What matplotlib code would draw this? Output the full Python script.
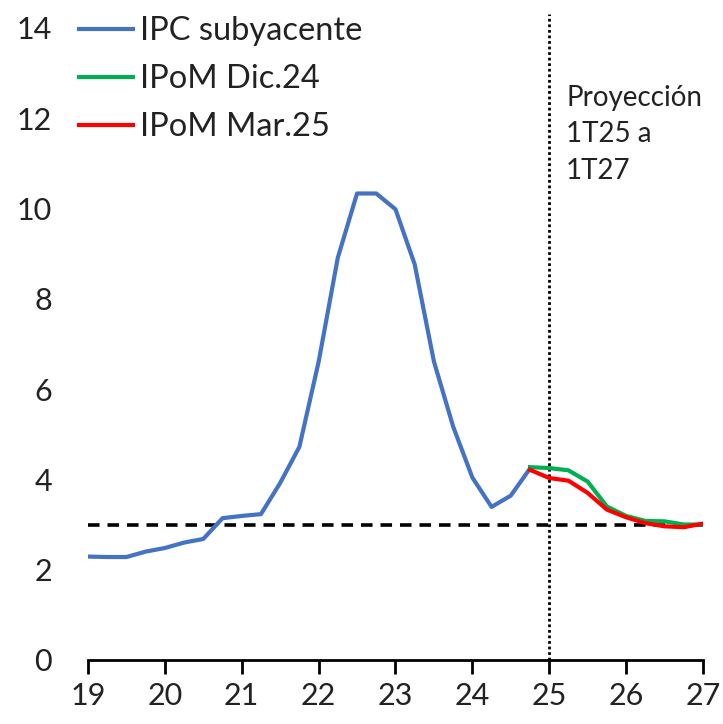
import numpy as np
import matplotlib.pyplot as plt

plt.rcParams['font.family'] = ['Lato', 'DejaVu Sans']

# quarterly core CPI, 2019Q1 .. 2024Q4
ipc_x = np.arange(19.0, 24.76, 0.25)
ipc_sub = [2.29, 2.28, 2.28, 2.40, 2.48, 2.60, 2.68, 3.14, 3.19, 3.23, 3.92, 4.72,
           6.60, 8.91, 10.33, 10.33, 9.98, 8.76, 6.61, 5.17, 4.04, 3.39, 3.64, 4.24]

# projections 2024Q4 .. 2027Q1
proj_x = np.arange(24.75, 27.01, 0.25)
ipom_dic24 = [4.27, 4.25, 4.20, 3.95, 3.40, 3.19, 3.08, 3.07, 3.00, 3.00]
ipom_mar25 = [4.21, 4.03, 3.97, 3.70, 3.33, 3.16, 3.03, 2.96, 2.94, 3.02]

meta = 3.0
xticks = list(range(19, 28))
yticks = list(range(0, 15, 2))

fig = plt.figure(figsize=(7.23, 7.24), dpi=100)
ax = fig.add_axes([0.1217, 0.0884, 0.8506, 0.892])

ax.plot([19, 27], [meta, meta], color='black', lw=2.6, dashes=(3.2, 2.2), zorder=2)
ax.axvline(25, color='black', lw=2.0, ls=(0, (1, 1)), zorder=1)

ax.plot(ipc_x, ipc_sub, color='#4472C4', lw=3.0, label='IPC subyacente', zorder=3)
ax.plot(proj_x, ipom_dic24, color='#00B050', lw=3.0, label='IPoM Dic.24', zorder=3)
ax.plot(proj_x, ipom_mar25, color='#FF0000', lw=3.0, label='IPoM Mar.25', zorder=4)

ax.set_xlim(19, 27)
ax.set_ylim(0, 14.3)
ax.set_xticks(xticks)
ax.set_xticklabels([str(t) for t in xticks])
ax.set_yticks(yticks)

for s in ['top', 'right', 'left']:
    ax.spines[s].set_visible(False)
ax.spines['bottom'].set_linewidth(2.0)
ax.tick_params(axis='x', direction='out', length=10, width=2.0, labelsize=22, pad=6,
               labelcolor='#222222')
ax.tick_params(axis='y', length=0, labelsize=22, pad=26, labelcolor='#222222')

ax.text(25.22, 12.74, 'Proyección\n1T25 a\n1T27', fontsize=20, va='top', ha='left',
        linespacing=1.5, color='#222222')

ax.legend(loc='upper left', bbox_to_anchor=(-0.062, 1.042), frameon=False,
          fontsize=23.5, handlelength=1.65, handletextpad=0.2, labelspacing=0.55,
          labelcolor='#222222')

fig.savefig('out.png', dpi=100)
